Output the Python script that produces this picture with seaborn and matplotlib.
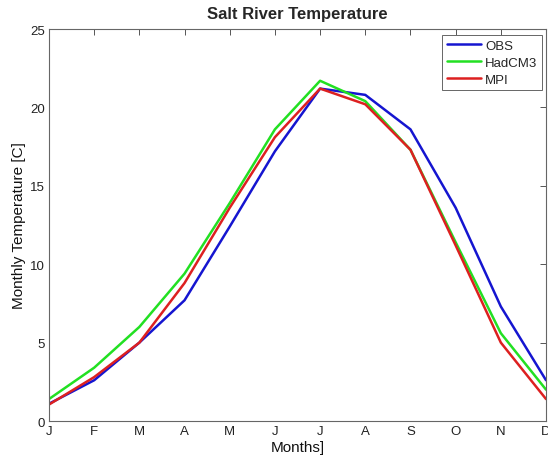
import matplotlib
matplotlib.use("Agg")
import matplotlib.pyplot as plt
import seaborn as sns
import pandas as pd

months = ["J", "F", "M", "A", "M", "J", "J", "A", "S", "O", "N", "D"]
obs = [1.1, 2.6, 5.0, 7.7, 12.4, 17.2, 21.2, 20.8, 18.6, 13.6, 7.3, 2.6]
hadcm3 = [1.4, 3.4, 6.0, 9.4, 13.9, 18.6, 21.7, 20.4, 17.3, 11.4, 5.6, 2.0]
mpi = [1.05, 2.8, 5.0, 8.8, 13.6, 18.1, 21.2, 20.2, 17.3, 11.2, 5.0, 1.4]

series = {"OBS": obs, "HadCM3": hadcm3, "MPI": mpi}
colors = {"OBS": "#1515d0", "HadCM3": "#22e022", "MPI": "#dd2020"}

rows = []
for name, vals in series.items():
    for i, v in enumerate(vals):
        rows.append({"month": i + 1, "temp": v, "model": name})
df = pd.DataFrame(rows)

sns.set_theme(style="white")
plt.rcParams["font.family"] = ["Liberation Sans", "DejaVu Sans"]

fig = plt.figure(figsize=(5.48, 4.64), dpi=100)
ax = fig.add_axes([0.0894, 0.0905, 0.9070, 0.8448])

sns.lineplot(data=df, x="month", y="temp", hue="model", palette=colors,
             linewidth=1.8, ax=ax, legend=False)

ax.set_xlim(1, 12)
ax.set_ylim(0, 25)
ax.set_xticks(range(1, 13))
ax.set_xticklabels(months)
ax.set_yticks([0, 5, 10, 15, 20, 25])
ax.tick_params(direction="in", length=4, width=0.7, color="#555555",
               labelsize=9.5, top=True, right=True, pad=3,
               labelcolor="#222222")
for sp in ax.spines.values():
    sp.set_color("#666666")
    sp.set_linewidth(0.8)

ax.set_xlabel("Months]", fontsize=11, labelpad=2, color="#111111")
ax.set_ylabel("Monthly Temperature [C]", fontsize=11, labelpad=3, color="#111111")
ax.set_title("Salt River Temperature", fontsize=12, fontweight="bold", pad=8)

handles = [plt.Line2D([], [], color=colors[k], linewidth=1.8) for k in series]
leg = ax.legend(handles, list(series.keys()), loc="upper right",
                bbox_to_anchor=(1.0, 0.995), fontsize=9.5, frameon=True,
                fancybox=False, framealpha=1, edgecolor="#666666",
                handlelength=2.6, handletextpad=0.3, borderpad=0.35,
                labelspacing=0.35, borderaxespad=0.3)
leg.get_frame().set_linewidth(0.7)

fig.savefig("out.png", dpi=100, facecolor="white")
